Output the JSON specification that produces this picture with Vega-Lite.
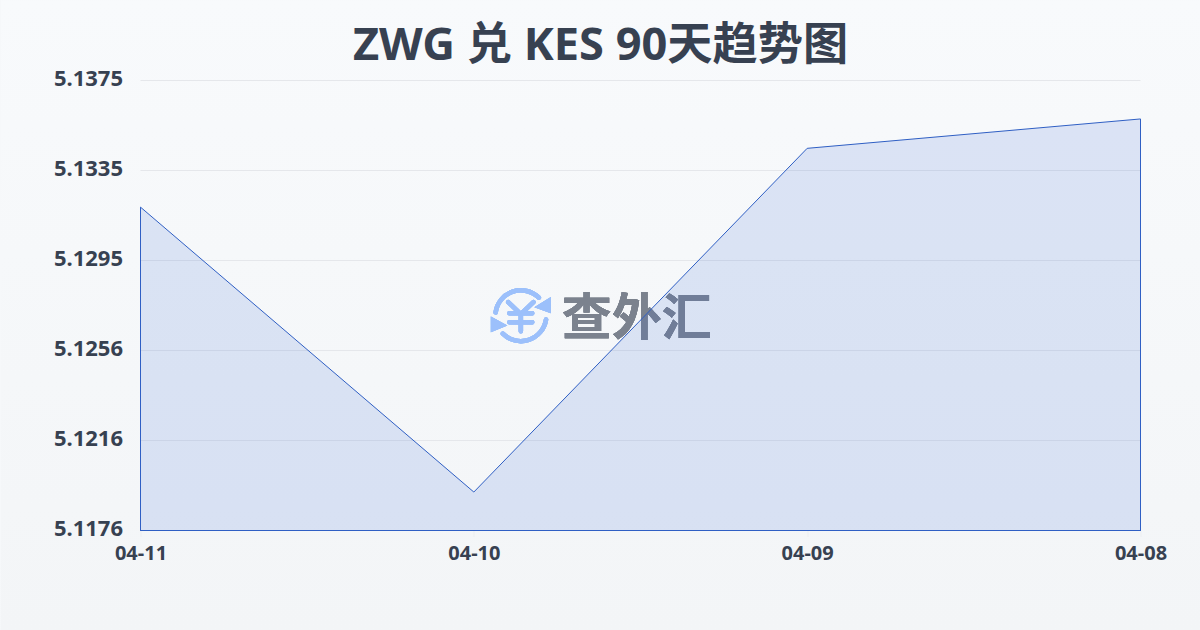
{"$schema":"https://vega.github.io/schema/vega-lite/v6.json","width":1000,"height":450,"autosize":"none","padding":{"left":140.5,"top":80.5,"right":59.5,"bottom":99.5},"background":"#f6f8fa","title":{"text":"ZWG 兑 KES 90天趋势图","font":"Noto Sans, Noto Sans CJK SC","fontSize":45.2,"fontWeight":"bold","color":"#374151","anchor":"middle","dx":-40,"dy":69,"offset":0},"config":{"view":{"stroke":null}},"data":{"values":[{"date":"04-11","rate":5.1319},{"date":"04-10","rate":5.1193},{"date":"04-09","rate":5.1345},{"date":"04-08","rate":5.1358}]},"encoding":{"x":{"field":"date","type":"ordinal","sort":null,"scale":{"type":"point","padding":0,"domain":["04-11","04-10","04-09","04-08"]},"axis":{"title":null,"zindex":1,"labelAngle":0,"labelFont":"Noto Sans","labelFontSize":20,"labelFontWeight":"bold","labelColor":"#374151","labelPadding":7,"domain":false,"grid":false,"tickColor":"#eceef1","tickSize":6}},"y":{"field":"rate","type":"quantitative","scale":{"domain":[5.1176,5.1375],"zero":false,"nice":false},"axis":{"title":null,"zindex":1,"values":[5.1176,5.12158,5.12556,5.12954,5.13352,5.1375],"format":".4f","labelFont":"Noto Sans","labelFontSize":22,"labelFontWeight":"bold","labelColor":"#374151","labelPadding":18,"labelBaseline":"middle","labelOffset":-2,"labelOverlap":false,"domain":false,"ticks":false,"grid":false}}},"layer":[{"mark":{"type":"rect","width":1200,"fill":{"gradient":"linear","x1":0,"y1":0,"x2":0,"y2":1,"stops":[{"offset":0,"color":"#f8fafc"},{"offset":1,"color":"#f3f5f7"}]}},"encoding":{"x":{"datum":"04-10"},"xOffset":{"value":127},"y":{"datum":5.14104},"y2":{"datum":5.11318}}},{"data":{"values":[{"tick":5.12158},{"tick":5.12556},{"tick":5.12954},{"tick":5.13352},{"tick":5.1375}]},"mark":{"type":"rule","stroke":"#e5e7eb","strokeWidth":1},"encoding":{"x":{"datum":"04-11"},"x2":{"datum":"04-08"},"y":{"field":"tick","type":"quantitative"}}},{"mark":{"type":"text","text":"查外汇","font":"Noto Sans CJK SC","fontWeight":"bold","fontSize":50,"color":"#7b828e","align":"center","baseline":"middle","dx":163,"dy":4},"encoding":{"x":{"datum":"04-10"},"y":{"datum":5.1271}}},{"mark":{"type":"point","shape":"M-0.84,-0.11 A0.85,0.85 0 0 1 0.6,-0.6 M0.84,0.13 A0.85,0.85 0 0 1 -0.6,0.6 M-0.42,-0.45 L0,-0.05 L0.42,-0.45 M-0.38,-0.08 L0.38,-0.08 M-0.38,0.22 L0.38,0.22 M0,-0.05 L0,0.52","filled":false,"stroke":"#9cc0fb","strokeWidth":4.5,"strokeCap":"round","strokeJoin":"round","size":3600,"opacity":1},"encoding":{"x":{"datum":"04-10"},"y":{"datum":5.1271},"xOffset":{"value":47}}},{"mark":{"type":"point","shape":"M1,-0.62 L1,-0.08 L0.45,-0.28 Z M-1,0.03 L-1,0.55 L-0.45,0.33 Z","filled":true,"fill":"#9cc0fb","strokeWidth":0,"size":3600,"opacity":1},"encoding":{"x":{"datum":"04-10"},"y":{"datum":5.1271},"xOffset":{"value":47}}},{"mark":{"type":"area","fill":"#2f62d6","fillOpacity":0.14,"line":false,"stroke":null},"encoding":{"y2":{"datum":5.1176}}},{"transform":[{"filter":"datum.date==='04-11'||datum.date==='04-08'"}],"mark":{"type":"rule","stroke":"#2f5fc4","strokeWidth":1},"encoding":{"y2":{"datum":5.1176}}},{"mark":{"type":"rule","stroke":"#2f5fc4","strokeWidth":1},"encoding":{"x":{"datum":"04-11"},"x2":{"datum":"04-08"},"y":{"datum":5.1176}}},{"mark":{"type":"line","stroke":"#2f5fc4","strokeWidth":1}}]}
